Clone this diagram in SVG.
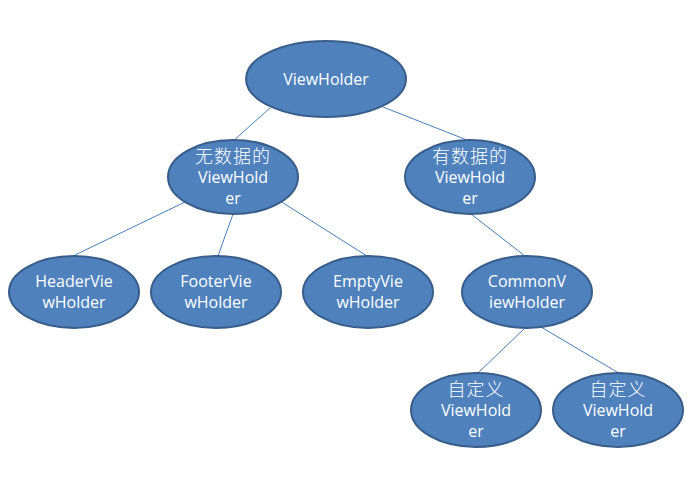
<svg xmlns="http://www.w3.org/2000/svg" width="692" height="486" viewBox="0 0 692 486">
<style>
.n{fill:#4F81BD;stroke:#385D8A;stroke-width:2}
.t{fill:#FFFFFF;font-family:"Open Sans","Noto Sans CJK SC",sans-serif;font-size:16px;text-anchor:middle}
.z{font-family:"Noto Sans CJK SC",sans-serif;font-size:18px;font-weight:300;letter-spacing:1px}
.c line{stroke:#4A7EBB;stroke-width:1}
</style>
<rect width="692" height="486" fill="#FFFFFF"/>
<g class="c" id="connectors">
<line x1="270" y1="108" x2="233" y2="141"/>
<line x1="383" y1="107" x2="467" y2="140"/>
<line x1="185" y1="202" x2="75" y2="255"/>
<line x1="233" y1="214" x2="218" y2="256"/>
<line x1="280" y1="201" x2="367" y2="256"/>
<line x1="471" y1="214" x2="525" y2="256"/>
<line x1="525" y1="328" x2="478" y2="373"/>
<line x1="541" y1="327" x2="617" y2="372"/>
</g>
<g id="viewholder"><ellipse class="n" cx="326" cy="79" rx="80" ry="38"/><text class="t" x="326" y="85">ViewHolder</text></g>
<g id="nodata"><ellipse class="n" cx="233" cy="177" rx="65" ry="37"/><text class="t z" x="233" y="163">无数据的</text><text class="t" x="233" y="183">ViewHold</text><text class="t" x="233" y="204">er</text></g>
<g id="hasdata"><ellipse class="n" cx="470" cy="177" rx="65" ry="37"/><text class="t z" x="470" y="163">有数据的</text><text class="t" x="470" y="183">ViewHold</text><text class="t" x="470" y="204">er</text></g>
<g id="header"><ellipse class="n" cx="74" cy="292" rx="65" ry="36"/><text class="t" x="74" y="287">HeaderVie</text><text class="t" x="74" y="308">wHolder</text></g>
<g id="footer"><ellipse class="n" cx="216" cy="292" rx="65" ry="36"/><text class="t" x="216" y="287">FooterVie</text><text class="t" x="216" y="308">wHolder</text></g>
<g id="empty"><ellipse class="n" cx="368" cy="292" rx="65" ry="36"/><text class="t" x="368" y="287">EmptyVie</text><text class="t" x="368" y="308">wHolder</text></g>
<g id="common"><ellipse class="n" cx="527" cy="292" rx="65" ry="36"/><text class="t" x="527" y="287">CommonV</text><text class="t" x="527" y="308">iewHolder</text></g>
<g id="custom1"><ellipse class="n" cx="476" cy="410" rx="65" ry="37"/><text class="t z" x="476" y="396">自定义</text><text class="t" x="476" y="416">ViewHold</text><text class="t" x="476" y="437">er</text></g>
<g id="custom2"><ellipse class="n" cx="618" cy="410" rx="65" ry="37"/><text class="t z" x="618" y="396">自定义</text><text class="t" x="618" y="416">ViewHold</text><text class="t" x="618" y="437">er</text></g>
</svg>
